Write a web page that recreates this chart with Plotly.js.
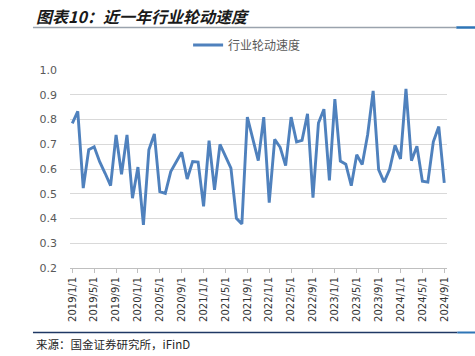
<!DOCTYPE html>
<html>
<head>
<meta charset="utf-8">
<script src="https://cdn.plot.ly/plotly-3.0.1.min.js"></script>
<style>html,body{margin:0;padding:0;background:#fff;}#chart{width:475px;height:356px;}</style>
</head>
<body>
<div id="chart"></div>
<script>
// ---- data ----
const seriesName = "行业轮动速度";
const months = [];
for (let y = 2019; y <= 2024; y++) {
  for (let m = 1; m <= 12; m++) {
    if (y === 2024 && m > 9) break;
    months.push(y + "/" + m + "/1");
  }
}
const values = [
  0.785, 0.833, 0.523, 0.678, 0.690, 0.630, 0.583, 0.533, 0.738, 0.579, 0.738, 0.482,
  0.608, 0.374, 0.678, 0.742, 0.509, 0.502, 0.590, 0.630, 0.668, 0.560, 0.630, 0.628,
  0.449, 0.715, 0.516, 0.700, 0.650, 0.604, 0.401, 0.378, 0.810, 0.725, 0.634, 0.810,
  0.464, 0.720, 0.688, 0.614, 0.810, 0.710, 0.716, 0.823, 0.484, 0.786, 0.842, 0.554,
  0.883, 0.632, 0.620, 0.533, 0.658, 0.618, 0.740, 0.916, 0.598, 0.547, 0.598, 0.696,
  0.641, 0.924, 0.634, 0.692, 0.551, 0.547, 0.710, 0.772, 0.544
];
const tickIdx = [];
const tickText = [];
for (let i = 0; i < months.length; i += 4) { tickIdx.push(i); tickText.push(months[i]); }
const yTicks = [0.2, 0.3, 0.4, 0.5, 0.6, 0.7, 0.8, 0.9, 1.0];

// ---- layout helpers (pixel -> paper) ----
const W = 475, H = 356;
const L = 70, R = W - 446.7, T = 70, B = H - 268;
const pw = W - L - R, ph = H - T - B;
const px = x => (x - L) / pw;
const py = y => (H - B - y) / ph;

const trace = {
  x: months.map((_, i) => i),
  y: values,
  type: 'scatter',
  mode: 'lines',
  name: seriesName,
  line: { color: '#4F81BD', width: 2.9 },
  hoverinfo: 'skip'
};

const layout = {
  width: W, height: H,
  margin: { l: L, r: R, t: T, b: B, pad: 0 },
  paper_bgcolor: '#ffffff',
  plot_bgcolor: '#ffffff',
  showlegend: true,
  legend: {
    orientation: 'h',
    x: px(188), xanchor: 'left',
    y: py(45), yanchor: 'middle',
    font: { family: 'Noto Sans CJK SC', size: 12, color: '#595959' },
    bgcolor: 'rgba(0,0,0,0)'
  },
  xaxis: {
    range: [-0.42, months.length - 1 + 0.5],
    tickmode: 'array',
    tickvals: tickIdx,
    ticktext: tickText,
    tickangle: -90,
    tickfont: { family: 'DejaVu Sans', size: 10, color: '#333333' },
    ticks: 'outside', ticklen: 4, tickcolor: '#bfbfbf', tickwidth: 1,
    showline: true, linecolor: '#bfbfbf', linewidth: 1,
    showgrid: false, zeroline: false, automargin: false, fixedrange: true
  },
  yaxis: {
    range: [0.2, 1.0005],
    tickmode: 'array',
    tickvals: yTicks,
    ticktext: yTicks.map(v => v.toFixed(1)),
    tickfont: { family: 'DejaVu Sans', size: 11, color: '#595959' },
    ticks: '', ticklabelstandoff: 12,
    showgrid: true, gridcolor: '#d9d9d9', gridwidth: 1,
    showline: false, zeroline: false, automargin: false, fixedrange: true
  },
  shapes: [
    { type: 'line', xref: 'paper', yref: 'paper', x0: px(33), x1: px(456), y0: py(27.5), y1: py(27.5),
      line: { color: '#9aa3ad', width: 1.5 } },
    { type: 'line', xref: 'paper', yref: 'paper', x0: px(456), x1: px(475), y0: py(27.5), y1: py(27.5),
      line: { color: '#2e75b6', width: 2.5 } },
    { type: 'line', xref: 'paper', yref: 'paper', x0: px(33), x1: px(457), y0: py(332.5), y1: py(332.5),
      line: { color: '#1f3864', width: 1.5 } },
    { type: 'line', xref: 'paper', yref: 'paper', x0: px(457), x1: px(475), y0: py(332.5), y1: py(332.5),
      line: { color: '#2e75b6', width: 2 } }
  ],
  annotations: [
    { xref: 'paper', yref: 'paper', x: px(34), y: py(16), xanchor: 'left', yanchor: 'middle',
      text: '图表10：近一年行业轮动速度', showarrow: false,
      font: { family: 'Noto Sans CJK SC', size: 16, color: '#1a1a1a', weight: 'bold', style: 'italic' } },
    { xref: 'paper', yref: 'paper', x: px(34), y: py(344), xanchor: 'left', yanchor: 'middle',
      text: '来源：国金证券研究所，iFinD', showarrow: false,
      font: { family: 'Noto Sans CJK SC', size: 11.5, color: '#262626' } }
  ]
};

Plotly.newPlot('chart', [trace], layout, { displayModeBar: false, staticPlot: true });
</script>
</body>
</html>
